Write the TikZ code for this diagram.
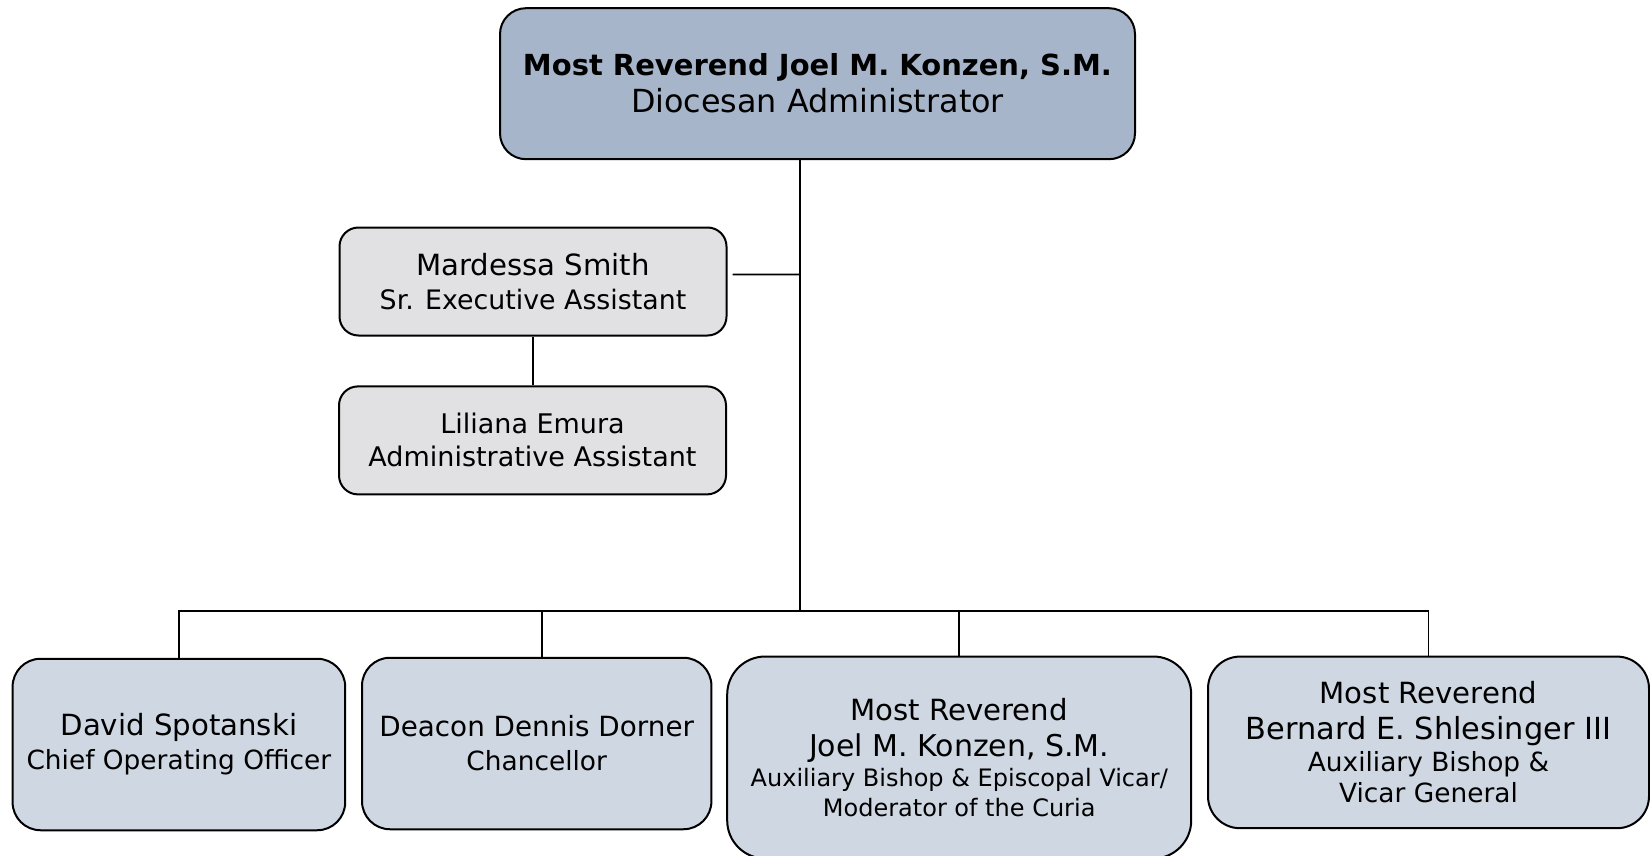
\documentclass[tikz,border=0pt]{standalone}
\usepackage{fontspec}
\setmainfont{DejaVu Sans}
\definecolor{topfill}{HTML}{A6B5C9}
\definecolor{asstfill}{HTML}{E1E1E4}
\definecolor{lowfill}{HTML}{CFD8E2}
\begin{document}
\begin{tikzpicture}[x=0.5pt,y=-0.5pt,
  box/.style={draw=black,line width=1pt,rounded corners=#1,align=center,inner sep=0pt},
  box/.default=10pt,
  link/.style={draw=black,line width=0.9pt}]
\useasboundingbox (0,0) rectangle (1650,856);
\begin{scope}
\clip (0,0) rectangle (1650,856);
% top
\node[box=13pt,fill=topfill,minimum width=317.5pt,minimum height=75.5pt,
  font=\fontsize{15.9}{18.5}\selectfont] (top) at (817.5,83.7)
  {{\bfseries\fontsize{14.5}{17}\selectfont Most Reverend Joel M. Konzen, S.M.}\\Diocesan Administrator};
% assistants
\node[box=9.5pt,fill=asstfill,minimum width=193.5pt,minimum height=54pt,
  font=\fontsize{14.6}{17}\selectfont] (ms) at (533,281.5)
  {Mardessa Smith\\{\fontsize{13.4}{16}\selectfont Sr. Executive Assistant}};
\node[box=9.5pt,fill=asstfill,minimum width=193.5pt,minimum height=54pt,
  font=\fontsize{13.5}{16.5}\selectfont] (le) at (532.5,440.4)
  {Liliana Emura\\Administrative Assistant};
% bottom row
\node[box=14pt,fill=lowfill,minimum width=166.3pt,minimum height=85.75pt,
  font=\fontsize{14.6}{17}\selectfont] (ds) at (178.9,744.5)
  {David Spotanski\\{\fontsize{13.2}{16}\selectfont Chief Operating Officer}};
\node[box=14pt,fill=lowfill,minimum width=174.7pt,minimum height=85.75pt,
  font=\fontsize{13.9}{17}\selectfont] (dd) at (536.7,743.5)
  {Deacon Dennis Dorner\\{\fontsize{13.2}{16}\selectfont Chancellor}};
\node[box=19pt,fill=lowfill,minimum width=232pt,minimum height=101pt,
  font=\fontsize{12}{15}\selectfont] (jk) at (959.2,757.5)
  {{\fontsize{14.6}{17}\selectfont Most Reverend}\\[3pt]{\fontsize{15}{17}\selectfont Joel M. Konzen, S.M.}\\Auxiliary Bishop \& Episcopal Vicar/\\Moderator of the Curia};
\node[box=16pt,fill=lowfill,minimum width=220.5pt,minimum height=85.8pt,
  font=\fontsize{13.2}{15.5}\selectfont] (bs) at (1428.5,742.4)
  {{\fontsize{14.6}{17}\selectfont Most Reverend}\\[2.5pt]{\fontsize{15.2}{17}\selectfont Bernard E. Shlesinger III}\\[0.5pt]Auxiliary Bishop \&\\Vicar General};
\end{scope}
% connectors
\coordinate (tj) at ([xshift=-8.75pt]top.south);
\coordinate (bus) at (800,611);
\coordinate (mj) at (800,274.6);
\coordinate (ms0) at ([xshift=2.5pt,yshift=3.5pt]ms.east);
\coordinate (ddtop) at ([xshift=2.65pt]dd.north);
\draw[link] (tj) -- (bus);
\draw[link] (ms0) -- (mj);
\draw[link] (ms.south) -- (ms.south |- le.north);
\draw[link] (ds.north) |- (bus) -| (bs.north);
\draw[link] (ddtop) -- (ddtop |- bus);
\draw[link] (jk.north) -- (jk.north |- bus);
\end{tikzpicture}
\end{document}
